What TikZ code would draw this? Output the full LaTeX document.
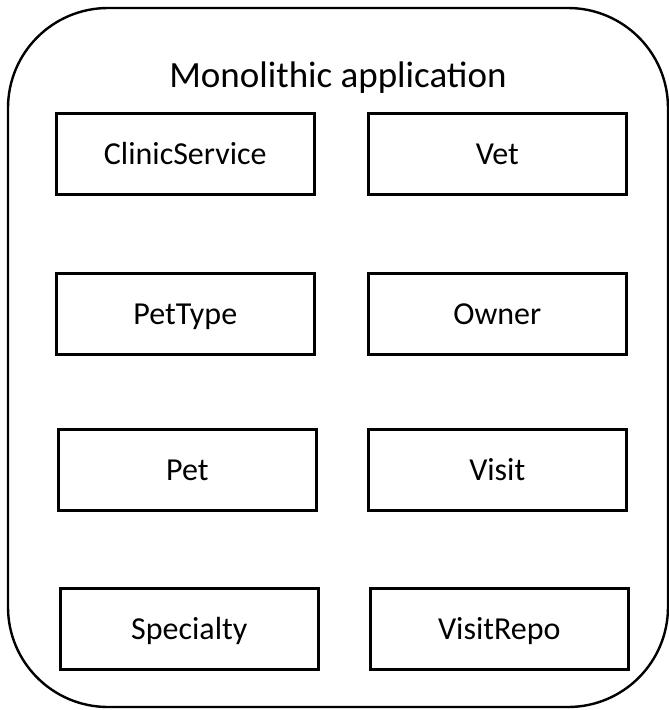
\documentclass[tikz,border=0pt]{standalone}
\usepackage{fontspec}
\setmainfont{Carlito}
\begin{document}
\begin{tikzpicture}[x=1pt,y=-1pt,
  comp/.style={draw=black, line width=2.6pt, minimum width=258pt, minimum height=81pt,
    inner sep=0pt, text height=21pt, text depth=0pt,
    font=\fontsize{32}{37}\selectfont, anchor=north west},
  shell/.style={draw=black, line width=2.4pt, rounded corners=100pt}]
\useasboundingbox (0,0) rectangle (669,710);
% application boundary
\draw[shell] (8,8) rectangle (668,707);
\node[font=\fontsize{37}{42}\selectfont, anchor=base] (title) at (338,87) {Monolithic application};
% components
\node[comp] (clinic)  at (55,112)  {ClinicService};
\node[comp] (vet)     at (367,112) {Vet};
\node[comp] (pettype) at (55,272)  {PetType};
\node[comp] (owner)   at (367,272) {Owner};
\node[comp] (pet)     at (57,428)  {Pet};
\node[comp] (visit)   at (367,428) {Visit};
\node[comp] (spec)    at (59,587)  {Specialty};
\node[comp] (vrepo)   at (369,587) {VisitRepo};
\end{tikzpicture}
\end{document}
